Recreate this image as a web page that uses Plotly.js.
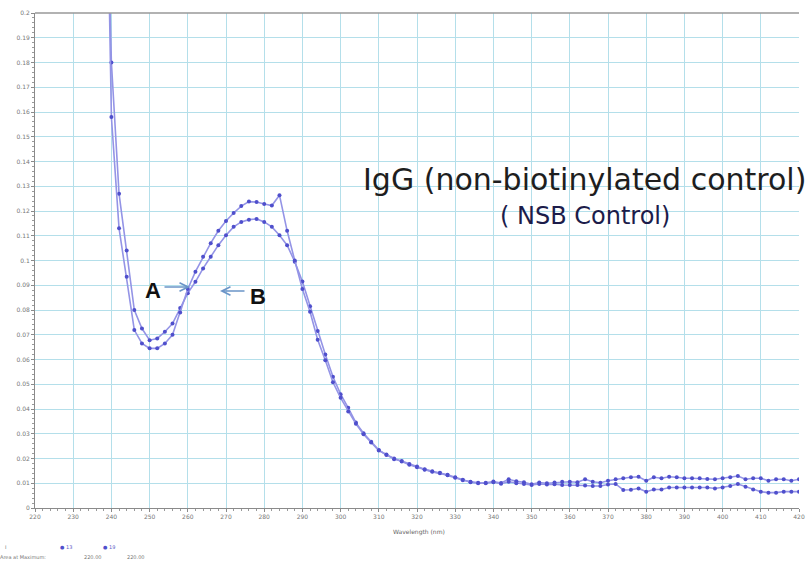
<!DOCTYPE html>
<html>
<head>
<meta charset="utf-8">
<script src="https://cdn.plot.ly/plotly-3.0.1.min.js"></script>
<style>
html,body{margin:0;padding:0;background:#fff;}
#chart{width:807px;height:561px;}
</style>
</head>
<body>
<div id="chart"></div>
<script>
// Wavelength (nm)
const wavelengthNm = [238,240,242,244,246,248,250,252,254,256,258,260,262,264,266,268,270,272,274,276,278,280,282,284,286,288,290,292,294,296,298,300,302,304,306,308,310,
312,314,316,318,320,322,324,326,328,330,332,334,336,338,340,342,344,346,348,350,352,354,356,358,360,362,364,366,368,370,372,374,376,378,380,382,384,386,388,390,392,394,396,398,400,402,404,406,408,410,412,414,416,418,420];

// Series "13"
const absorbance13 = [0.300,0.180,0.127,0.104,0.080,0.0725,0.0678,0.0685,0.0712,0.0745,0.0808,0.0868,0.0914,0.0968,0.1015,0.1062,0.1102,0.1136,0.1156,0.1165,0.1168,0.1156,0.1136,0.1102,0.1062,0.0995,0.0915,0.0815,0.0715,0.0620,0.0530,0.0460,0.0405,0.0345,0.0302,0.0268,0.0234,
0.0214,0.0200,0.0188,0.0175,0.0165,0.0155,0.0146,0.0140,0.0132,0.0122,
0.0112,0.0106,0.0102,0.0102,0.0107,0.0101,0.0116,0.0108,0.0104,0.0096,
0.0103,0.0100,0.0103,0.0106,0.0106,0.0104,0.0116,0.0106,0.0102,0.0110,
0.0116,0.0120,0.0124,0.0126,0.0110,0.0124,0.0120,0.0126,0.0124,0.0120,
0.0120,0.0120,0.0117,0.0116,0.0120,0.0124,0.0129,0.0116,0.0120,0.0120,
0.0110,0.0116,0.0116,0.0110,0.0116];

// Series "19"
const absorbance19 = [0.330,0.158,0.113,0.0934,0.0719,0.0665,0.0645,0.0645,0.0665,0.0700,0.0790,0.0885,0.0955,0.1015,0.1070,0.1120,0.1160,0.1192,0.1220,0.1238,0.1236,0.1228,0.1222,0.1264,0.1120,0.1000,0.0885,0.0793,0.0680,0.0597,0.0508,0.0445,0.0390,0.0340,0.0298,0.0265,0.0232,
0.0216,0.0197,0.0190,0.0178,0.0168,0.0157,0.0148,0.0142,0.0134,0.0124,
0.0114,0.0104,0.0100,0.0100,0.0104,0.0098,0.0106,0.0100,0.0097,0.0093,
0.0097,0.0095,0.0096,0.0093,0.0093,0.0093,0.0091,0.0089,0.0089,0.0095,
0.0097,0.0073,0.0074,0.0079,0.0066,0.0075,0.0075,0.0083,0.0083,0.0083,
0.0083,0.0083,0.0083,0.0079,0.0083,0.0089,0.0097,0.0086,0.0075,0.0066,
0.0062,0.0062,0.0066,0.0066,0.0066];

const seriesNames = ["13", "19"];
const titleMain = "IgG (non-biotinylated control)";
const titleSub = "( NSB Control)";
const xAxisTitle = "Wavelength (nm)";
const legendFooter = ["Area at Maximum:", "220.00", "220.00"];

const lineColor = "#9494e6";
const markerColor = "#4f4fcc";

function mkTrace(y, name) {
  return {
    x: wavelengthNm, y: y, name: name, type: "scatter", mode: "lines+markers",
    line: {color: lineColor, width: 1.6},
    marker: {color: markerColor, size: 4},
    cliponaxis: true, showlegend: false
  };
}

const L = 35, R = 8, T = 13, B = 53, W = 807, H = 561;
const pw = W - L - R, ph = H - T - B;
function px(x) { return (x - L) / pw; }
function py(y) { return (H - B - y) / ph; }

const tinyFont = {family: "DejaVu Sans, Arial, sans-serif", size: 5, color: "#777"};

const annotations = [
  {xref: "paper", yref: "paper", x: px(584), y: py(179), text: titleMain, showarrow: false,
   xanchor: "center", yanchor: "middle",
   font: {family: "DejaVu Sans, sans-serif", size: 30, color: "#1e1e1e"}},
  {xref: "paper", yref: "paper", x: px(585), y: py(216), text: titleSub, showarrow: false,
   xanchor: "center", yanchor: "middle",
   font: {family: "DejaVu Sans, sans-serif", size: 24, color: "#1c1c4a"}},
  {xref: "paper", yref: "paper", x: px(153), y: py(290), text: "<b>A</b>", showarrow: false,
   xanchor: "center", yanchor: "middle",
   font: {family: "Liberation Sans, Arial, sans-serif", size: 22, color: "#111"}},
  {xref: "paper", yref: "paper", x: px(258), y: py(297), text: "<b>B</b>", showarrow: false,
   xanchor: "center", yanchor: "middle",
   font: {family: "Liberation Sans, Arial, sans-serif", size: 22, color: "#111"}},
  {xref: "paper", yref: "paper", x: px(190), y: py(287), text: "", showarrow: true,
   ax: -27, ay: 0, arrowhead: 5, arrowsize: 1.3, arrowwidth: 1.3, arrowcolor: "#6b95c8"},
  {xref: "paper", yref: "paper", x: px(220), y: py(291), text: "", showarrow: true,
   ax: 26, ay: 0, arrowhead: 5, arrowsize: 1.3, arrowwidth: 1.3, arrowcolor: "#6b95c8"},
  {xref: "paper", yref: "paper", x: px(419), y: py(532), text: xAxisTitle, showarrow: false,
   xanchor: "center", yanchor: "middle", font: {family: "DejaVu Sans, Arial, sans-serif", size: 6, color: "#666"}},
  {xref: "paper", yref: "paper", x: px(3), y: py(547), text: "I", showarrow: false,
   xanchor: "left", yanchor: "middle", font: tinyFont},
  {xref: "paper", yref: "paper", x: px(58), y: py(547), text: "<span style='color:" + markerColor + "'>\u25CF</span> " + seriesNames[0], showarrow: false,
   xanchor: "left", yanchor: "middle", font: {family: "DejaVu Sans, Arial, sans-serif", size: 5, color: "#6060c8"}},
  {xref: "paper", yref: "paper", x: px(101), y: py(547), text: "<span style='color:" + markerColor + "'>\u25CF</span> " + seriesNames[1], showarrow: false,
   xanchor: "left", yanchor: "middle", font: {family: "DejaVu Sans, Arial, sans-serif", size: 5, color: "#6060c8"}},
  {xref: "paper", yref: "paper", x: px(-2), y: py(557), text: legendFooter[0], showarrow: false,
   xanchor: "left", yanchor: "middle", font: tinyFont},
  {xref: "paper", yref: "paper", x: px(82), y: py(557), text: legendFooter[1], showarrow: false,
   xanchor: "left", yanchor: "middle", font: tinyFont},
  {xref: "paper", yref: "paper", x: px(125), y: py(557), text: legendFooter[2], showarrow: false,
   xanchor: "left", yanchor: "middle", font: tinyFont}
];

const layout = {
  width: W, height: H,
  margin: {l: L, r: R, t: T, b: B, pad: 0},
  paper_bgcolor: "#fff", plot_bgcolor: "#fff",
  showlegend: false,
  xaxis: {
    range: [220, 420], dtick: 10, tick0: 220,
    showgrid: true, gridcolor: "#b4dfea", gridwidth: 1,
    zeroline: false, showline: true, linecolor: "#8a8a8a", linewidth: 1,
    ticks: "outside", ticklen: 3, tickcolor: "#8a8a8a",
    minor: {dtick: 2, ticks: "outside", ticklen: 2, tickcolor: "#9a9a9a", showgrid: false},
    tickfont: {family: "DejaVu Sans, Arial, sans-serif", size: 6, color: "#777"},
    fixedrange: true
  },
  yaxis: {
    range: [0, 0.2], dtick: 0.01, tick0: 0,
    showgrid: true, gridcolor: "#b4dfea", gridwidth: 1,
    zeroline: false, showline: true, linecolor: "#8a8a8a", linewidth: 1,
    ticks: "outside", ticklen: 3, tickcolor: "#8a8a8a",
    minor: {dtick: 0.002, ticks: "outside", ticklen: 2, tickcolor: "#9a9a9a", showgrid: false},
    tickfont: {family: "DejaVu Sans, Arial, sans-serif", size: 6, color: "#777"},
    fixedrange: true
  },
  shapes: [
    {type: "line", xref: "paper", yref: "paper", x0: 0, x1: 1, y0: 1, y1: 1,
     line: {color: "#999", width: 1.5}}
  ],
  annotations: annotations
};

Plotly.newPlot("chart", [mkTrace(absorbance13, seriesNames[0]), mkTrace(absorbance19, seriesNames[1])], layout,
  {displayModeBar: false, staticPlot: true});
</script>
</body>
</html>
